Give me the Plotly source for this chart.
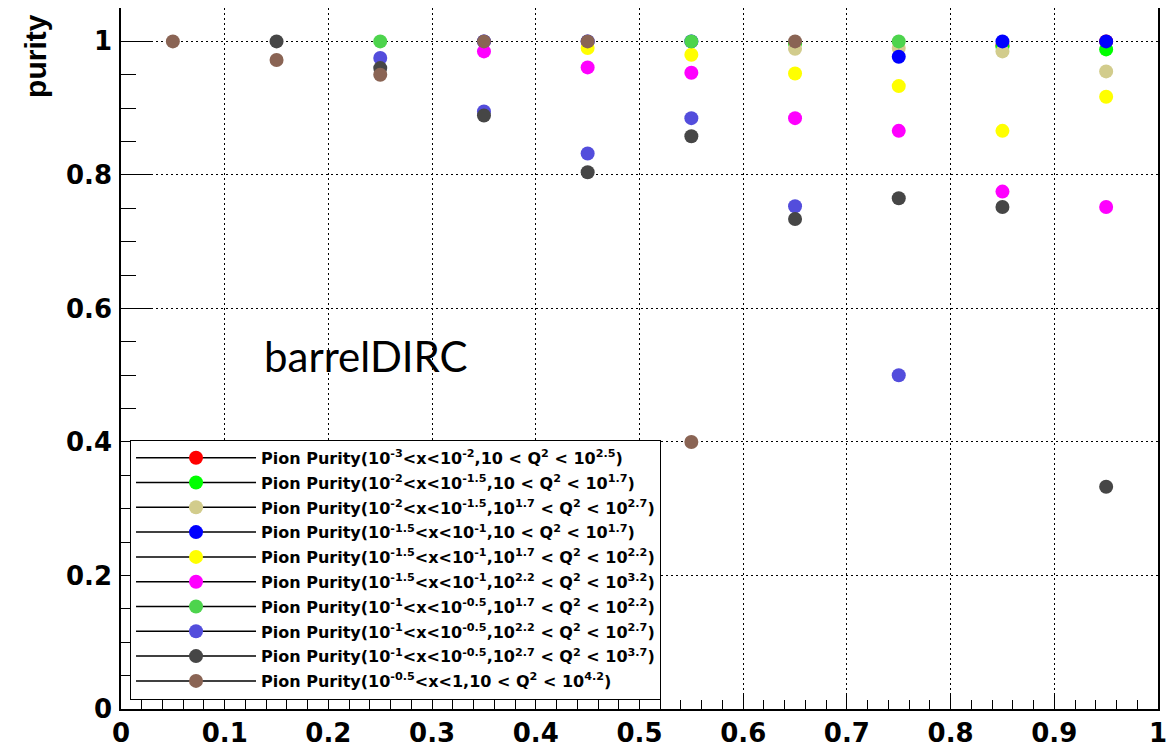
import plotly.graph_objects as go

# ---------------- data ----------------
series_names = [
    "Pion Purity(10<sup>-3</sup>&lt;x&lt;10<sup>-2</sup>,10 &lt; Q<sup>2</sup> &lt; 10<sup>2.5</sup>)",
    "Pion Purity(10<sup>-2</sup>&lt;x&lt;10<sup>-1.5</sup>,10 &lt; Q<sup>2</sup> &lt; 10<sup>1.7</sup>)",
    "Pion Purity(10<sup>-2</sup>&lt;x&lt;10<sup>-1.5</sup>,10<sup>1.7</sup> &lt; Q<sup>2</sup> &lt; 10<sup>2.7</sup>)",
    "Pion Purity(10<sup>-1.5</sup>&lt;x&lt;10<sup>-1</sup>,10 &lt; Q<sup>2</sup> &lt; 10<sup>1.7</sup>)",
    "Pion Purity(10<sup>-1.5</sup>&lt;x&lt;10<sup>-1</sup>,10<sup>1.7</sup> &lt; Q<sup>2</sup> &lt; 10<sup>2.2</sup>)",
    "Pion Purity(10<sup>-1.5</sup>&lt;x&lt;10<sup>-1</sup>,10<sup>2.2</sup> &lt; Q<sup>2</sup> &lt; 10<sup>3.2</sup>)",
    "Pion Purity(10<sup>-1</sup>&lt;x&lt;10<sup>-0.5</sup>,10<sup>1.7</sup> &lt; Q<sup>2</sup> &lt; 10<sup>2.2</sup>)",
    "Pion Purity(10<sup>-1</sup>&lt;x&lt;10<sup>-0.5</sup>,10<sup>2.2</sup> &lt; Q<sup>2</sup> &lt; 10<sup>2.7</sup>)",
    "Pion Purity(10<sup>-1</sup>&lt;x&lt;10<sup>-0.5</sup>,10<sup>2.7</sup> &lt; Q<sup>2</sup> &lt; 10<sup>3.7</sup>)",
    "Pion Purity(10<sup>-0.5</sup>&lt;x&lt;1,10 &lt; Q<sup>2</sup> &lt; 10<sup>4.2</sup>)",
]

x_red = [0.85, 0.95]
y_red = [0.994, 1.0]

x_green = [0.65, 0.85, 0.95]
y_green = [0.997, 0.992, 0.988]

x_khaki = [0.65, 0.75, 0.85, 0.95]
y_khaki = [0.989, 0.990, 0.985, 0.955]

x_blue = [0.35, 0.45, 0.55, 0.75, 0.85, 0.95]
y_blue = [1.0, 1.0, 1.0, 0.977, 1.0, 1.0]

x_yellow = [0.45, 0.55, 0.65, 0.75, 0.85, 0.95]
y_yellow = [0.990, 0.980, 0.952, 0.933, 0.866, 0.917]

x_magenta = [0.35, 0.45, 0.55, 0.65, 0.75, 0.85, 0.95]
y_magenta = [0.985, 0.961, 0.953, 0.885, 0.866, 0.775, 0.752]

x_medgreen = [0.25, 0.55, 0.75]
y_medgreen = [1.0, 1.0, 1.0]

x_violet = [0.25, 0.35, 0.45, 0.55, 0.65, 0.75]
y_violet = [0.975, 0.895, 0.832, 0.885, 0.753, 0.5]

x_gray = [0.15, 0.25, 0.35, 0.45, 0.55, 0.65, 0.75, 0.85, 0.95]
y_gray = [1.0, 0.960, 0.889, 0.804, 0.858, 0.734, 0.765, 0.752, 0.333]

x_brown = [0.05, 0.15, 0.25, 0.35, 0.45, 0.55, 0.65]
y_brown = [1.0, 0.972, 0.950, 1.0, 1.0, 0.400, 1.0]

series_x = [x_red, x_green, x_khaki, x_blue, x_yellow, x_magenta,
            x_medgreen, x_violet, x_gray, x_brown]
series_y = [y_red, y_green, y_khaki, y_blue, y_yellow, y_magenta,
            y_medgreen, y_violet, y_gray, y_brown]
series_colors = ["#ff0000", "#00ff00", "#d2cc8c", "#0000ff", "#ffff00",
                 "#ff00ff", "#4dd44d", "#534ddc", "#464646", "#8a6454"]

x_ticks = [0, 0.1, 0.2, 0.3, 0.4, 0.5, 0.6, 0.7, 0.8, 0.9, 1]
y_ticks = [0, 0.2, 0.4, 0.6, 0.8, 1]

# ---------------- figure ----------------
fig = go.Figure()
for xs, ys, col in zip(series_x, series_y, series_colors):
    fig.add_trace(go.Scatter(
        x=xs, y=ys, mode="markers", showlegend=False,
        marker=dict(color=col, size=14, line=dict(width=0)),
    ))
for i, (col, nm) in enumerate(zip(series_colors, series_names)):
    fig.add_trace(go.Scatter(
        x=[None], y=[None], mode="lines+markers", name=nm,
        legendgroup="g%d" % i,
        line=dict(color="black", width=1.5),
        marker=dict(color=col, size=14, line=dict(width=0)),
    ))

tickfont = dict(family="DejaVu Sans", size=26, color="black", weight="bold")

fig.update_layout(
    width=1168, height=740,
    margin=dict(l=113, r=18, t=0, b=39, autoexpand=False),
    paper_bgcolor="white", plot_bgcolor="white",
    showlegend=True,
    legend=dict(
        x=0.0087, y=0.384, xanchor="left", yanchor="top",
        bgcolor="white", bordercolor="black", borderwidth=1,
        font=dict(family="DejaVu Sans", size=16, color="black", weight="bold"),
        itemwidth=120, tracegroupgap=1,
    ),
    xaxis=dict(
        range=[0, 1], tickvals=x_ticks, ticks="inside", ticklen=14,
        tickcolor="black", tickwidth=1, tickfont=tickfont,
        showline=True, linecolor="black", linewidth=1.5, mirror=True,
        showgrid=True, gridcolor="black", gridwidth=1, griddash="2px,3px",
        zeroline=False,
        minor=dict(dtick=0.02, ticks="inside", ticklen=9, tickcolor="black", showgrid=False),
    ),
    yaxis=dict(
        range=[0, 1.05], tickvals=y_ticks, ticks="inside", ticklen=32,
        tickcolor="black", tickwidth=1, tickfont=tickfont, ticklabelstandoff=2,
        showline=True, linecolor="black", linewidth=1.5, mirror=True,
        showgrid=True, gridcolor="black", gridwidth=1, griddash="2px,3px",
        zeroline=False,
        minor=dict(dtick=0.05, ticks="inside", ticklen=15, tickcolor="black", showgrid=False),
    ),
    annotations=[
        dict(text="purity", textangle=-90, xref="paper", yref="paper",
             x=-0.083, y=0.9315, xanchor="center", yanchor="middle", showarrow=False,
             font=dict(family="Liberation Sans", size=30, color="black", weight="bold")),
        dict(text="barrelDIRC", xref="paper", yref="paper",
             x=0.2358, y=0.5036, xanchor="center", yanchor="middle", showarrow=False,
             font=dict(family="Lato", size=42, color="black")),
    ],
)

fig.write_html("out.html")
